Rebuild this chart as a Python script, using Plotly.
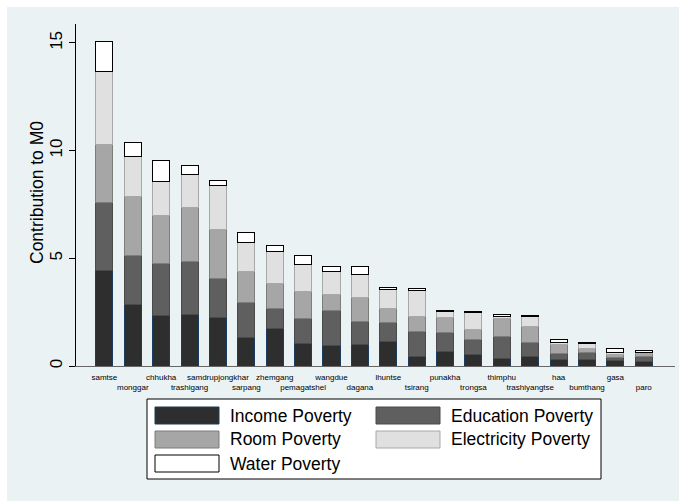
import plotly.graph_objects as go

districts = ["samtse", "monggar", "chhukha", "trashigang", "samdrupjongkhar", "sarpang",
             "zhemgang", "pemagatshel", "wangdue", "dagana", "lhuntse", "tsirang", "punakha",
             "trongsa", "thimphu", "trashiyangtse", "haa", "bumthang", "gasa", "paro"]

income = [4.43, 2.86, 2.34, 2.37, 2.26, 1.33, 1.73, 1.04, 0.96, 0.98, 1.15, 0.45, 0.66,
          0.54, 0.36, 0.43, 0.28, 0.31, 0.25, 0.23]
education = [3.14, 2.25, 2.41, 2.49, 1.81, 1.61, 0.93, 1.16, 1.63, 1.10, 0.86, 1.13, 0.89,
             0.70, 1.00, 0.68, 0.31, 0.33, 0.15, 0.20]
room = [2.71, 2.75, 2.23, 2.49, 2.25, 1.43, 1.15, 1.25, 0.75, 1.08, 0.65, 0.74, 0.68,
        0.46, 0.85, 0.72, 0.39, 0.18, 0.14, 0.13]
electricity = [3.41, 1.89, 1.61, 1.54, 2.07, 1.36, 1.49, 1.24, 1.06, 1.11, 0.90, 1.20, 0.28,
               0.79, 0.11, 0.48, 0.13, 0.23, 0.11, 0.09]
water = [1.37, 0.62, 0.95, 0.40, 0.22, 0.48, 0.29, 0.42, 0.24, 0.34, 0.10, 0.07, 0.06,
         0.06, 0.08, 0.03, 0.10, 0.05, 0.15, 0.08]

series_names = ["Income Poverty", "Education Poverty", "Room Poverty",
                "Electricity Poverty", "Water Poverty"]
series_values = [income, education, room, electricity, water]
fills = ["#2e2e2e", "#5f5f5f", "#a6a6a6", "#e0e0e0", "#ffffff"]
lines = ["#1a3d5f", "#4a4a4a", "#7d7d7d", "#a8a8a8", "#000000"]

y_ticks = [0, 5, 10, 15]

W, H = 679, 501
L, R, T, B = 76, 4, 24, 135
PW, PH = W - L - R, H - T - B
FONT = "Liberation Sans, Arial"


def px_x(px):
    return (px - L) / PW


def px_y(py):
    return (H - B - py) / PH


fig = go.Figure()
xs = list(range(len(districts)))
for name, vals, fc, lc in zip(series_names, series_values, fills, lines):
    fig.add_trace(go.Bar(x=xs, y=vals, name=name,
                         marker=dict(color=fc, line=dict(color=lc, width=1)),
                         showlegend=False))

ticktext = [d if i % 2 == 0 else "<br>" + d for i, d in enumerate(districts)]

shapes = [
    dict(type="rect", xref="paper", yref="paper", x0=px_x(7), x1=px_x(W + 2), y0=px_y(7), y1=px_y(H + 2),
         fillcolor="#EAF2F3", line=dict(width=0), layer="below"),
]

annotations = [
    dict(text="Contribution to M0", xref="paper", yref="paper", x=px_x(37), y=px_y(193),
         textangle=-90, showarrow=False, font=dict(size=17.5, color="#000000", family=FONT),
         xanchor="center", yanchor="middle"),
]

shapes.append(dict(type="rect", xref="paper", yref="paper", x0=px_x(147), x1=px_x(601),
                   y0=px_y(399), y1=px_y(479), fillcolor="#ffffff",
                   line=dict(color="#000000", width=1)))
legend_pos = [(155, 407), (376, 407), (155, 431), (376, 431), (155, 455)]
for (sx, sy), name, fc, lc in zip(legend_pos, series_names, fills, lines):
    shapes.append(dict(type="rect", xref="paper", yref="paper", x0=px_x(sx), x1=px_x(sx + 64),
                       y0=px_y(sy), y1=px_y(sy + 17), fillcolor=fc, line=dict(color=lc, width=1)))
    annotations.append(dict(text=name, xref="paper", yref="paper", x=px_x(sx + 73), y=px_y(sy + 8.5),
                            showarrow=False, xanchor="left", yanchor="middle",
                            font=dict(size=17.5, color="#000000", family=FONT)))

fig.update_layout(
    width=W, height=H,
    margin=dict(l=L, r=R, t=T, b=B),
    paper_bgcolor="#ffffff",
    plot_bgcolor="#ffffff",
    barmode="stack",
    bargap=0.4,
    shapes=shapes,
    annotations=annotations,
    font=dict(family=FONT, color="#000000"),
    xaxis=dict(range=[-1, 20.1], tickmode="array", tickvals=xs, ticktext=ticktext,
               tickangle=0, tickfont=dict(size=8, color="#000000"), showgrid=False, ticks="",
               ticklabelstandoff=3,
               showline=True, linecolor="#666666", linewidth=1, zeroline=False),
    yaxis=dict(range=[0, 15.88], tickmode="array", tickvals=y_ticks, ticktext=[str(v) for v in y_ticks],
               tickangle=-90, tickfont=dict(size=17, color="#000000"),
               showgrid=True, gridcolor="#EAF2F3", gridwidth=1,
               ticks="outside", ticklen=6, tickcolor="#000000",
               showline=True, linecolor="#000000", linewidth=1, zeroline=False),
)

fig.write_html("out.html")
